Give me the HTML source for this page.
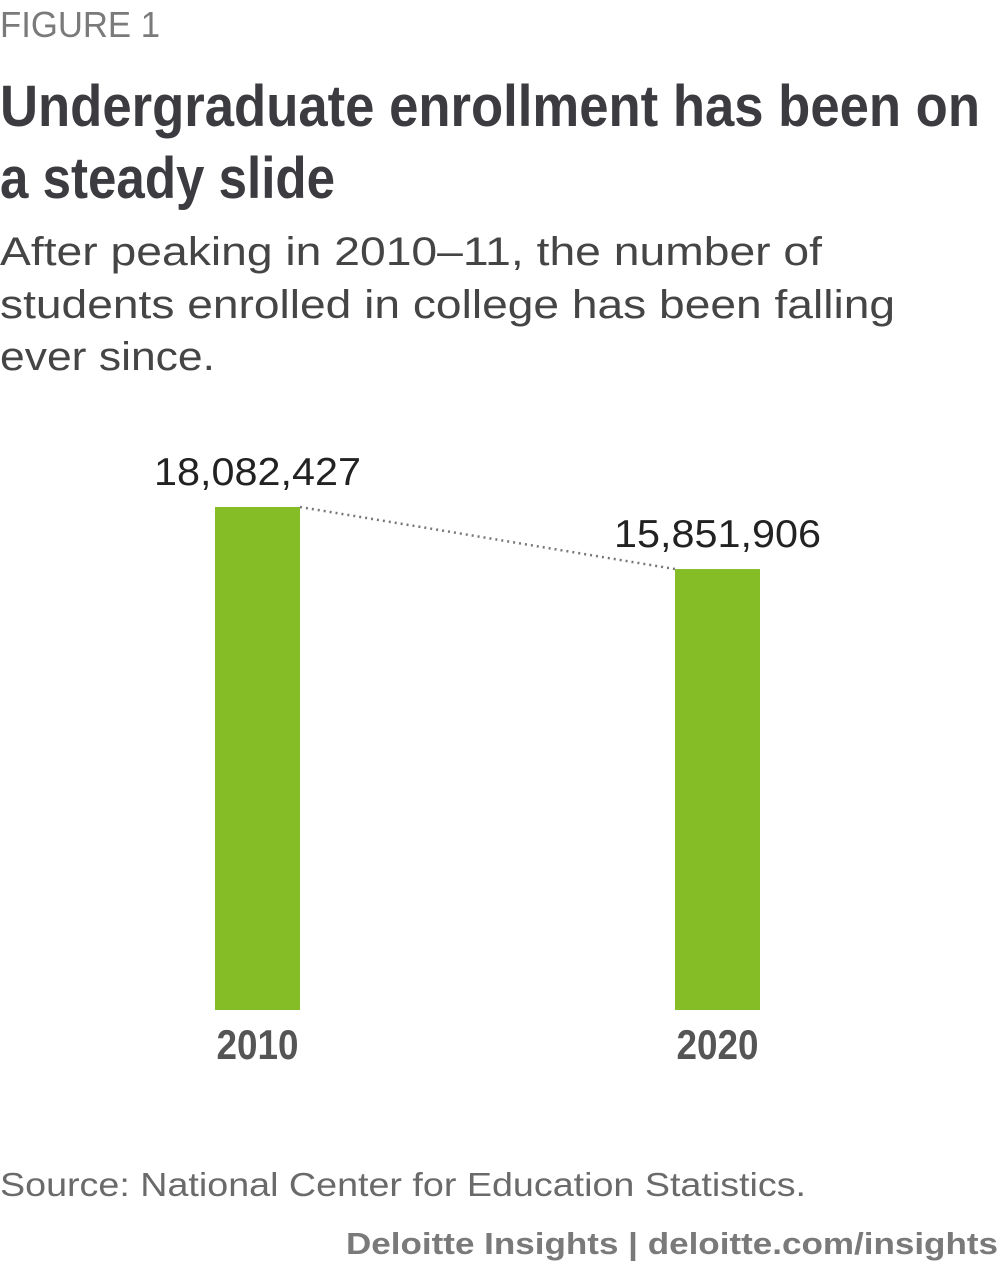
<!DOCTYPE html>
<html><head><meta charset="utf-8"><style>
html,body{margin:0;padding:0;background:#fff;}
svg{display:block;}
</style></head><body>
<svg width="1000" height="1271" viewBox="0 0 1000 1271" xmlns="http://www.w3.org/2000/svg" id="chart">
<text x="0" y="37" font-family="Liberation Sans, sans-serif" font-size="36" fill="#7a7a7a" textLength="160" lengthAdjust="spacingAndGlyphs">FIGURE 1</text>
<g font-family="Liberation Sans Narrow, Liberation Sans, sans-serif" font-weight="bold" font-size="58" fill="#3b3b40">
<text x="0" y="126" textLength="980" lengthAdjust="spacingAndGlyphs">Undergraduate enrollment has been on</text>
<text x="0" y="198" textLength="335" lengthAdjust="spacingAndGlyphs">a steady slide</text>
</g>
<g font-family="Liberation Sans, sans-serif" font-size="40" fill="#454545">
<text x="0" y="265" textLength="822" lengthAdjust="spacingAndGlyphs">After peaking in 2010–11, the number of</text>
<text x="0" y="318" textLength="895" lengthAdjust="spacingAndGlyphs">students enrolled in college has been falling</text>
<text x="0" y="370" textLength="215" lengthAdjust="spacingAndGlyphs">ever since.</text>
</g>
<g id="plot"></g>
<text x="0" y="1196" font-family="Liberation Sans, sans-serif" font-size="33" fill="#6a6a6a" textLength="806" lengthAdjust="spacingAndGlyphs">Source: National Center for Education Statistics.</text>
<text x="998" y="1254" text-anchor="end" font-family="Liberation Sans, sans-serif" font-weight="bold" font-size="31" fill="#7a7a7a" textLength="652" lengthAdjust="spacingAndGlyphs">Deloitte Insights | deloitte.com/insights</text>
</svg>
<script>
const categories = ["2010", "2020"];
const values = [18082427, 15851906];
const valueLabels = ["18,082,427", "15,851,906"];
const NS = "http://www.w3.org/2000/svg";
const plot = document.getElementById("plot");
const baseY = 1010, maxH = 503, maxV = 18082427;
const barW = 85;
function xPos(i){ return 215 + i * 460; }
function yPos(v){ return baseY - v / maxV * maxH; }
const tops = [];
categories.forEach((c, i) => {
  const x = xPos(i), y = yPos(values[i]);
  tops.push([x, y]);
  const r = document.createElementNS(NS, "rect");
  r.setAttribute("x", x); r.setAttribute("y", y);
  r.setAttribute("width", barW); r.setAttribute("height", baseY - y);
  r.setAttribute("fill", "#84bd26");
  
  
  plot.appendChild(r);
  const t = document.createElementNS(NS, "text");
  t.setAttribute("x", x + barW / 2); t.setAttribute("y", y - 22);
  t.setAttribute("text-anchor", "middle");
  t.setAttribute("font-family", "Liberation Sans, sans-serif");
  t.setAttribute("font-size", "39"); t.setAttribute("fill", "#222");
  t.setAttribute("textLength", "207");
  t.setAttribute("lengthAdjust", "spacingAndGlyphs");
  t.textContent = valueLabels[i];
  
  
  plot.appendChild(t);
  const l = document.createElementNS(NS, "text");
  l.setAttribute("x", x + barW / 2); l.setAttribute("y", 1059);
  l.setAttribute("text-anchor", "middle");
  l.setAttribute("font-family", "Liberation Sans Narrow, Liberation Sans, sans-serif");
  l.setAttribute("font-weight", "bold");
  l.setAttribute("font-size", "42"); l.setAttribute("fill", "#555");
  l.setAttribute("textLength", "82");
  l.setAttribute("lengthAdjust", "spacingAndGlyphs");
  l.textContent = c;
  
  
  plot.appendChild(l);
});
const ln = document.createElementNS(NS, "line");
ln.setAttribute("x1", tops[0][0] + barW); ln.setAttribute("y1", tops[0][1]);
ln.setAttribute("x2", tops[1][0]); ln.setAttribute("y2", tops[1][1]);
ln.setAttribute("stroke", "#777"); ln.setAttribute("stroke-width", "2.5");
ln.setAttribute("stroke-dasharray", "2 4");


plot.appendChild(ln);
</script>
</body></html>
